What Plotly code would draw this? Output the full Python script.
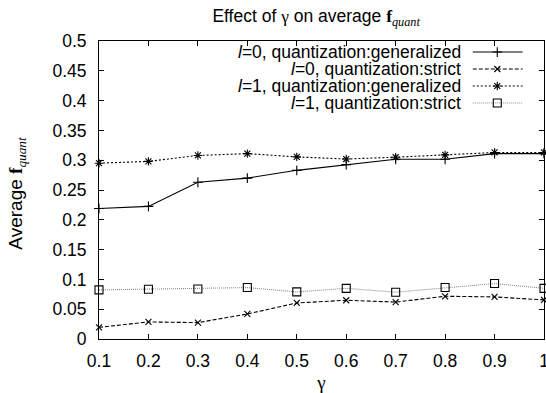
import plotly.graph_objects as go

gamma = [0.1, 0.2, 0.3, 0.4, 0.5, 0.6, 0.7, 0.8, 0.9, 1.0]
gamma_labels = ["0.1", "0.2", "0.3", "0.4", "0.5", "0.6", "0.7", "0.8", "0.9", "1"]
l0_generalized = [0.219, 0.2225, 0.263, 0.270, 0.283, 0.2925, 0.3015, 0.3015, 0.311, 0.311]
l0_strict = [0.0196, 0.0286, 0.0275, 0.042, 0.0605, 0.065, 0.062, 0.0717, 0.0706, 0.0656]
l1_generalized = [0.295, 0.298, 0.308, 0.311, 0.3055, 0.302, 0.305, 0.309, 0.313, 0.313]
l1_strict = [0.0824, 0.0835, 0.084, 0.0863, 0.079, 0.085, 0.0785, 0.0863, 0.093, 0.085]

series_names = [
    "<i>l</i>=0, quantization:generalized",
    "<i>l</i>=0, quantization:strict",
    "<i>l</i>=1, quantization:generalized",
    "<i>l</i>=1, quantization:strict",
]
series_values = [l0_generalized, l0_strict, l1_generalized, l1_strict]
styles = [
    dict(color="black", dash="solid", symbol="cross-thin-open", msize=7, mcolor="black"),
    dict(color="black", dash="4px,2px", symbol="x-thin-open", msize=6, mcolor="black"),
    dict(color="black", dash="2px,2px", symbol="asterisk-open", msize=7, mcolor="black"),
    dict(color="#8a8a8a", dash="1px,1px", symbol="square-open", msize=8, mcolor="black"),
]

FONT = "Liberation Sans, Arial, Helvetica, sans-serif"
SERIF = "Liberation Serif, Times New Roman, serif"
FS = 17.5
fig = go.Figure()

for name, vals, st in zip(series_names, series_values, styles):
    fig.add_trace(go.Scatter(
        x=gamma, y=vals, mode="lines+markers", name=name, showlegend=False,
        line=dict(color=st["color"], dash=st["dash"], width=1.1),
        marker=dict(symbol=st["symbol"], size=st["msize"],
                    line=dict(color=st["mcolor"], width=1.1), color=st["mcolor"]),
        cliponaxis=False,
    ))

# custom legend (key drawn to the right of the text)
row_y = [0.963, 0.906, 0.849, 0.792]
key_x0, key_x1, key_xm = 0.840, 0.952, 0.895
text_x = 0.818
for name, st, ry in zip(series_names, styles, row_y):
    fig.add_trace(go.Scatter(
        x=[key_x0, key_x1], y=[ry, ry], mode="lines", xaxis="x2", yaxis="y2",
        showlegend=False, hoverinfo="skip",
        line=dict(color=st["color"], dash=st["dash"], width=1.1),
    ))
    fig.add_trace(go.Scatter(
        x=[key_xm], y=[ry], mode="markers", xaxis="x2", yaxis="y2",
        showlegend=False, hoverinfo="skip",
        marker=dict(symbol=st["symbol"], size=st["msize"],
                    line=dict(color=st["mcolor"], width=1.1), color=st["mcolor"]),
    ))
    fig.add_annotation(
        x=text_x, y=ry, xref="paper", yref="paper", text=name, showarrow=False,
        xanchor="right", yanchor="middle", font=dict(family=FONT, size=FS, color="black"),
    )

fq = f'<span style="font-family:{SERIF}"><b>f</b><sub><i>quant</i></sub></span>'
gam = f'<span style="font-family:{SERIF}">γ</span>'

# y-axis title placed as a rotated annotation (paper coords)
fig.add_annotation(
    x=-0.185, y=0.49, xref="paper", yref="paper", text="Average " + fq, showarrow=False,
    textangle=-90, xanchor="center", yanchor="middle",
    font=dict(family=FONT, size=19, color="black"),
)

fig.update_layout(
    width=546, height=393,
    margin=dict(l=99, r=2, t=41, b=54),
    paper_bgcolor="white", plot_bgcolor="white",
    font=dict(family=FONT, size=FS, color="black"),
    title=dict(text="Effect of " + gam + " on average " + fq, x=0.579, xanchor="center",
               y=0.96, yanchor="middle", font=dict(family=FONT, size=17.5)),
    xaxis=dict(
        range=[0.1, 1.0], tickvals=gamma, ticktext=gamma_labels,
        ticks="inside", ticklen=5, tickcolor="black", showline=True, linecolor="black",
        linewidth=1, mirror="ticks", showgrid=False, zeroline=False, automargin=False,
        ticklabelstandoff=6, ticklabeloverflow="allow",
        title=dict(text=gam, standoff=6, font=dict(size=19)),
        tickfont=dict(size=FS),
    ),
    yaxis=dict(
        range=[0, 0.5], dtick=0.05, tick0=0,
        ticks="inside", ticklen=5, tickcolor="black", showline=True, linecolor="black",
        linewidth=1, mirror="ticks", showgrid=False, zeroline=False, automargin=False,
        ticklabelstandoff=8,
        tickfont=dict(size=FS),
    ),
    xaxis2=dict(overlaying="x", range=[0, 1], visible=False, fixedrange=True),
    yaxis2=dict(overlaying="y", range=[0, 1], visible=False, fixedrange=True),
)

fig.write_html("out.html", config={"displayModeBar": False},
               post_script="document.body.style.margin='0';document.body.style.overflow='hidden';")
